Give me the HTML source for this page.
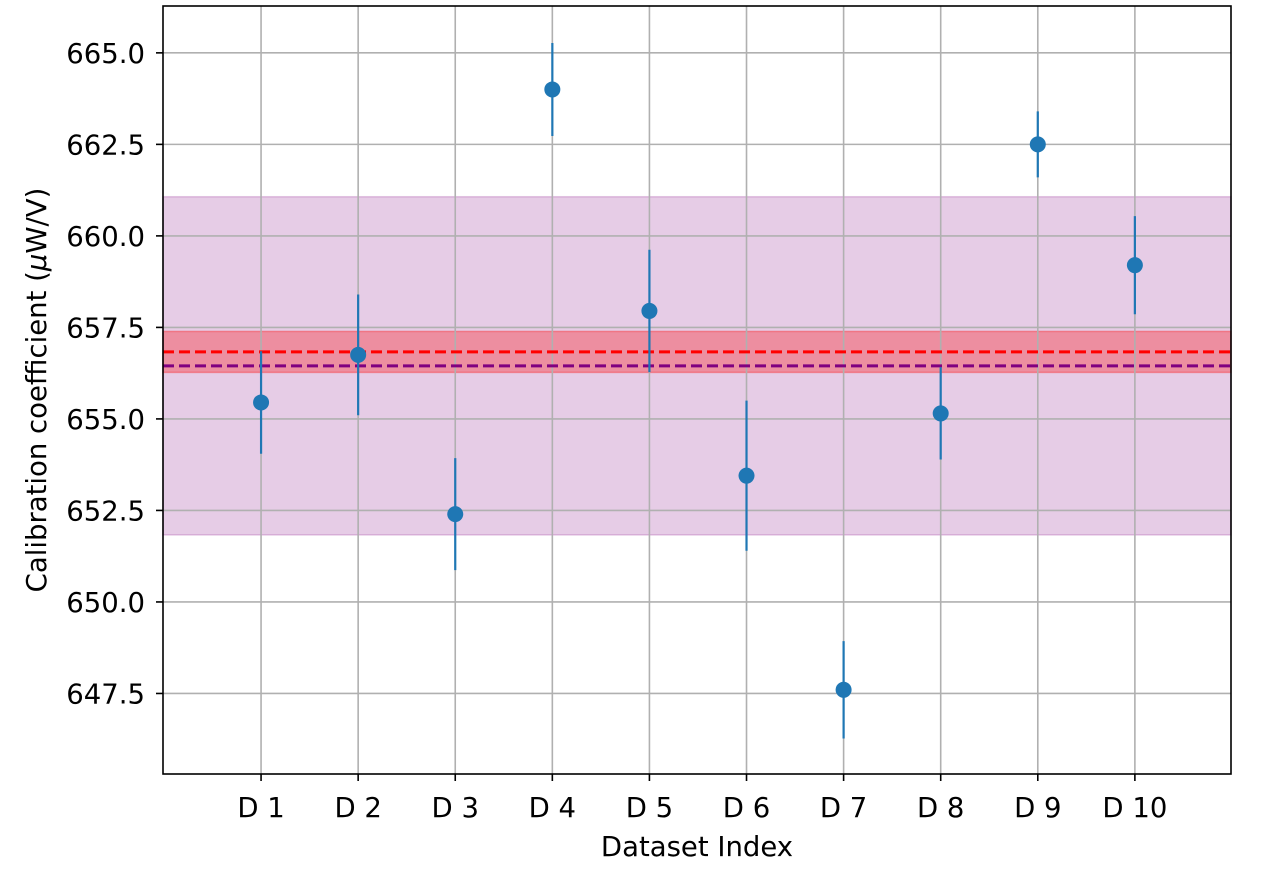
<!DOCTYPE html>
<html><head><meta charset="utf-8"><style>
body{margin:0;background:#fff;}
svg text{font-family:"DejaVu Sans","Liberation Sans",sans-serif;fill:#000;}
</style></head><body>
<svg id="chart" width="1261" height="878" xmlns="http://www.w3.org/2000/svg">
<rect width="1261" height="878" fill="#fff"/>
<g id="bands"></g><g id="grid"></g><g id="lines"></g><g id="marks"></g><g id="axes"></g>
</svg>
<script>
const categories=["D 1","D 2","D 3","D 4","D 5","D 6","D 7","D 8","D 9","D 10"];
const values=[655.45,656.75,652.4,664.0,657.95,653.45,647.6,655.15,662.5,659.2];
const errors=[1.4,1.65,1.53,1.27,1.67,2.05,1.33,1.26,0.9,1.34];
const yTicks=[647.5,650.0,652.5,655.0,657.5,660.0,662.5,665.0];
const weightedMean=656.83, weightedErr=0.56;
const plainMean=656.45, plainStd=4.62;

const L=163,R=1231,T=6,B=774;
const xMin=-1.01,xMax=9.99,yMin=645.30,yMax=666.28;
const X=i=>L+(i-xMin)/(xMax-xMin)*(R-L);
const Y=v=>B-(v-yMin)/(yMax-yMin)*(B-T);
const NS="http://www.w3.org/2000/svg";
function mk(p,tag,a){const e=document.createElementNS(NS,tag);for(const k in a)e.setAttribute(k,a[k]);document.getElementById(p).appendChild(e);return e;}

let e=mk("bands","rect",{x:L,y:Y(plainMean+plainStd),width:R-L,height:Y(plainMean-plainStd)-Y(plainMean+plainStd),fill:"#800080","fill-opacity":0.2,stroke:"#800080","stroke-opacity":0.2,"stroke-width":1.5});


e=mk("bands","rect",{x:L,y:Y(weightedMean+weightedErr),width:R-L,height:Y(weightedMean-weightedErr)-Y(weightedMean+weightedErr),fill:"#ff0000","fill-opacity":0.3,stroke:"#ff0000","stroke-opacity":0.3,"stroke-width":1.5});



yTicks.forEach(v=>{
 e=mk("grid","line",{x1:L,x2:R,y1:Y(v),y2:Y(v),stroke:"#b0b0b0","stroke-width":1.6});
 
 
 mk("axes","line",{x1:L-7,x2:L,y1:Y(v),y2:Y(v),stroke:"#000","stroke-width":1.6});
 e=mk("axes","text",{x:L-18,y:Y(v)+10,"text-anchor":"end","font-size":27.5});
 e.textContent=v.toFixed(1);
 
 
});
categories.forEach((c,i)=>{
 e=mk("grid","line",{x1:X(i),x2:X(i),y1:T,y2:B,stroke:"#b0b0b0","stroke-width":1.6});
 
 
 mk("axes","line",{x1:X(i),x2:X(i),y1:B,y2:B+7,stroke:"#000","stroke-width":1.6});
 e=mk("axes","text",{x:X(i),y:B+43,"text-anchor":"middle","font-size":27.5});
 e.textContent=c;
 
 
});

e=mk("lines","line",{x1:L,x2:R,y1:Y(weightedMean),y2:Y(weightedMean),stroke:"#ff0000","stroke-width":3,"stroke-dasharray":"11,5"});


e=mk("lines","line",{x1:L,x2:R,y1:Y(plainMean),y2:Y(plainMean),stroke:"#800080","stroke-width":3,"stroke-dasharray":"11,5"});



values.forEach((v,i)=>{
 e=mk("marks","line",{x1:X(i),x2:X(i),y1:Y(v+errors[i]),y2:Y(v-errors[i]),stroke:"#1f77b4","stroke-width":2.2});
 
 
 e=mk("marks","circle",{cx:X(i),cy:Y(v),r:8,fill:"#1f77b4"});
 
 
});

e=mk("axes","rect",{x:L,y:T,width:R-L,height:B-T,fill:"none",stroke:"#000","stroke-width":1.6});


e=mk("axes","text",{x:697,y:856,"text-anchor":"middle","font-size":27.5});
e.textContent="Dataset Index";


e=mk("axes","text",{x:0,y:0,"text-anchor":"middle","font-size":27.5,transform:"translate(46,390) rotate(-90)"});
e.innerHTML='Calibration coefficient (<tspan font-style="italic">μ</tspan>W/V)';


</script>
</body></html>
